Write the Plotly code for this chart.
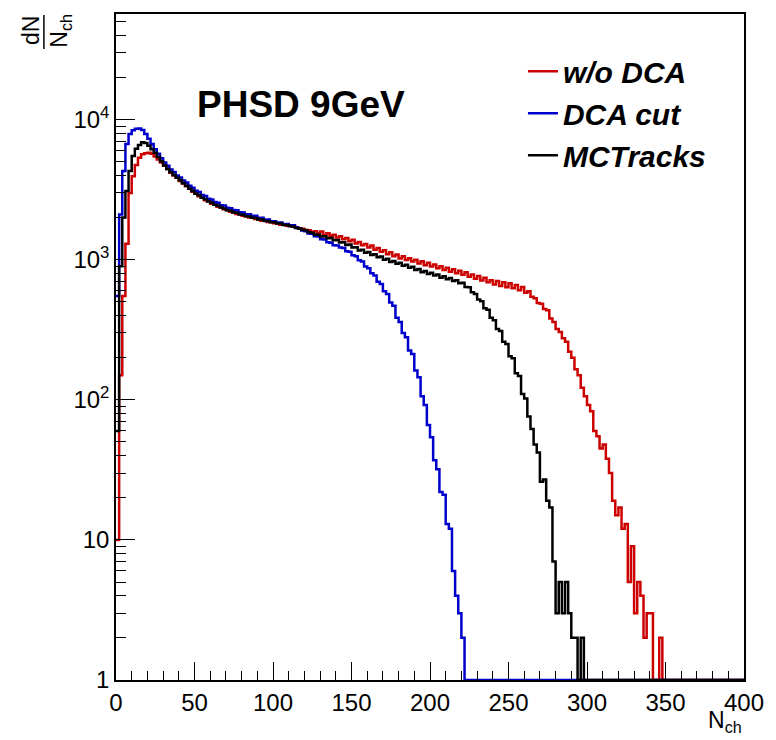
import numpy as np
import plotly.graph_objects as go

# ---------------- data (bins of width 2 in N_ch, starting at 0) ----------------
BIN_WIDTH = 2
X_MAX = 400

wo_dca = [  # red, "w/o DCA"
    10, 150, 550, 1300, 3000, 3950, 4750, 5350, 5650, 5750,
    5800, 5700, 5450, 5200, 4950, 4680, 4450, 4180, 4000, 3840,
    3640, 3500, 3340, 3210, 3060, 2960, 2840, 2770, 2660, 2610,
    2510, 2470, 2390, 2355, 2290, 2260, 2200, 2180, 2120, 2105,
    2060, 2045, 2000, 1990, 1955, 1940, 1900, 1895, 1860, 1855,
    1820, 1815, 1780, 1780, 1750, 1750, 1720, 1705, 1675, 1665,
    1630, 1620, 1580, 1600, 1545, 1590, 1500, 1545, 1480, 1510,
    1440, 1470, 1400, 1430, 1355, 1390, 1305, 1340, 1270, 1295,
    1225, 1265, 1180, 1210, 1140, 1170, 1095, 1130, 1060, 1090,
    1020, 1060, 995, 1025, 970, 1000, 940, 975, 915, 950,
    895, 925, 870, 900, 845, 875, 820, 855, 800, 835,
    780, 815, 755, 785, 730, 765, 710, 745, 690, 715,
    665, 705, 650, 690, 635, 680, 625, 660, 605, 640,
    580, 595, 545, 530, 490, 485, 445, 435, 380, 360,
    320, 305, 275, 260, 220, 200, 165, 150, 122, 106,
    92, 83, 60, 55, 45, 48, 38, 30, 19, 15,
    17, 12, 13, 5, 9, 3, 5, 4, 2, 3,
    3, 0, 0, 2, 0,
]

dca_cut = [  # blue, "DCA cut"
    550, 2100, 4300, 6700, 7900, 8400, 8600, 8650, 8450, 7900,
    7300, 6700, 6150, 5700, 5300, 4950, 4680, 4400, 4220, 4000,
    3870, 3670, 3560, 3370, 3270, 3110, 3040, 2900, 2850, 2720,
    2690, 2580, 2555, 2450, 2440, 2350, 2335, 2260, 2255, 2180,
    2175, 2110, 2115, 2050, 2060, 1995, 1995, 1935, 1935, 1885,
    1880, 1835, 1845, 1795, 1800, 1760, 1760, 1700, 1665, 1615,
    1600, 1540, 1530, 1470, 1465, 1400, 1395, 1330, 1320, 1270,
    1265, 1220, 1210, 1150, 1140, 1075, 1060, 990, 970, 895,
    870, 800, 770, 695, 670, 595, 570, 495, 470, 385,
    360, 300, 280, 225, 212, 162, 145, 106, 92, 66,
    54, 37, 32, 22, 21, 13, 12, 6, 4, 3,
    2, 0,
]

mc_tracks = [  # black, "MCTracks"
    60, 900, 2000, 3100, 4300, 5500, 6200, 6600, 6900, 6800,
    6500, 6150, 5800, 5400, 5050, 4700, 4440, 4210, 4030, 3840,
    3690, 3510, 3380, 3210, 3100, 2960, 2880, 2770, 2700, 2600,
    2550, 2470, 2430, 2355, 2325, 2255, 2235, 2175, 2160, 2105,
    2095, 2045, 2035, 1990, 1985, 1940, 1935, 1890, 1890, 1850,
    1850, 1810, 1810, 1770, 1770, 1730, 1725, 1685, 1665, 1635,
    1620, 1570, 1560, 1515, 1510, 1465, 1470, 1425, 1430, 1375,
    1385, 1325, 1335, 1275, 1285, 1220, 1230, 1165, 1180, 1120,
    1135, 1080, 1095, 1040, 1055, 1000, 1015, 965, 980, 935,
    950, 905, 920, 875, 890, 845, 860, 815, 830, 790,
    808, 770, 785, 745, 762, 725, 740, 705, 715, 680,
    685, 640, 635, 585, 570, 520, 505, 450, 440, 385,
    370, 320, 310, 260, 250, 205, 198, 155, 148, 110,
    102, 76, 62, 48, 42, 26, 27, 19, 17, 7,
    3, 5, 3, 5, 3, 2, 2, 0, 2, 0,
]

series = [
    ("w/o DCA", wo_dca, "#cc0000"),
    ("DCA cut", dca_cut, "#0000cc"),
    ("MCTracks", mc_tracks, "#000000"),
]

Y_MIN = 1
LOG_RANGE = [0, 4.754]

fig = go.Figure()
for name, vals, color in series:
    v = np.asarray(vals, dtype=float)
    edges = np.arange(len(v) + 1) * BIN_WIDTH
    # step outline of histogram; empty bins drawn on the axis floor (as ROOT does)
    y = np.where(v > 0, v, Y_MIN)
    xs = np.concatenate([edges[:-1], [edges[-1], X_MAX]])
    ys = np.concatenate([y, [y[-1], y[-1]]])
    fig.add_trace(go.Scatter(
        x=xs, y=ys, mode="lines", name=name,
        line=dict(color=color, width=2.5, shape="hv"),
    ))

ytickvals = [1, 10, 100, 1000, 10000]
yticktext = ["1", "10", "10<sup>2</sup>", "10<sup>3</sup>", "10<sup>4</sup>"]
yminor = [m * 10 ** d for d in range(0, 5) for m in range(2, 10)]

FONT = "Liberation Sans, Arial, Helvetica, sans-serif"

fig.update_layout(
    width=776, height=740,
    margin=dict(l=116, r=24, t=12, b=60),
    paper_bgcolor="white", plot_bgcolor="white",
    showlegend=True,
    legend=dict(
        x=0.648, y=0.953, xanchor="left", yanchor="top",
        bgcolor="rgba(0,0,0,0)",
        font=dict(family=FONT, size=30, color="black", weight="bold", style="italic"),
        tracegroupgap=0,
    ),
    xaxis=dict(
        range=[0, X_MAX], showgrid=False, zeroline=False,
        showline=True, linecolor="black", linewidth=1.5, mirror=True,
        ticks="inside", ticklen=18, tickwidth=1, tickcolor="black",
        tick0=0, dtick=50,
        minor=dict(ticks="inside", ticklen=9, tickwidth=1, tickcolor="black", dtick=10),
        tickfont=dict(family=FONT, size=24, color="black"),
    ),
    yaxis=dict(
        type="log", range=LOG_RANGE, showgrid=False, zeroline=False,
        showline=True, linecolor="black", linewidth=1.5, mirror=True,
        ticks="inside", ticklen=19, tickwidth=1, tickcolor="black",
        tickmode="array", tickvals=ytickvals, ticktext=yticktext,
        minor=dict(ticks="inside", ticklen=10, tickwidth=1, tickcolor="black",
                   tickmode="array", tickvals=yminor),
        tickfont=dict(family=FONT, size=24, color="black"),
    ),
)

# plot label
fig.add_annotation(
    text="<b>PHSD 9GeV</b>", xref="paper", yref="paper",
    x=0.294, y=0.864, xanchor="center", yanchor="middle", showarrow=False,
    font=dict(family=FONT, size=37, color="black"),
)

# x-axis title (right aligned, below the axis)
fig.add_annotation(
    text="N<sub>ch</sub>", xref="paper", yref="paper",
    x=1.0, y=-0.063, xanchor="right", yanchor="middle", showarrow=False,
    font=dict(family=FONT, size=23, color="black"),
)

# y-axis title: fraction dN / N_ch, rotated
fig.add_annotation(
    text="dN", xref="paper", yref="paper", textangle=-90,
    x=-0.1352, y=0.9746, xanchor="center", yanchor="middle", showarrow=False,
    font=dict(family=FONT, size=23, color="black"),
)
fig.add_annotation(
    text="N<sub>ch</sub>", xref="paper", yref="paper", textangle=-90,
    x=-0.088, y=0.9746, xanchor="center", yanchor="middle", showarrow=False,
    font=dict(family=FONT, size=23, color="black"),
)
fig.add_shape(
    type="line", xref="paper", yref="paper",
    x0=-0.1148, x1=-0.1148, y0=0.9476, y1=0.9985,
    line=dict(color="black", width=1.5),
)

fig.write_html("out.html")
